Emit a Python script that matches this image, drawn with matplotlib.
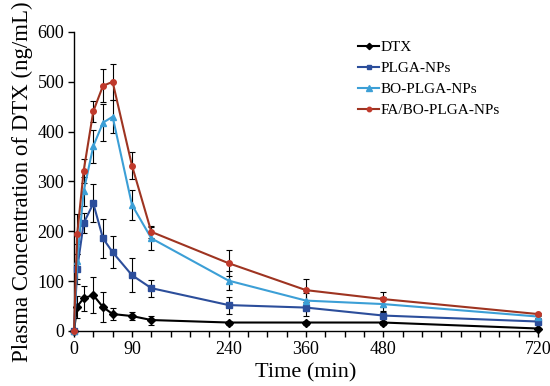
import matplotlib.pyplot as plt
import numpy as np

plt.rcParams['font.family'] = ['Liberation Serif', 'DejaVu Serif']

time_min = [0, 5, 15, 30, 45, 60, 90, 120, 240, 360, 480, 720]

dtx = [0, 49, 66, 72, 48, 34, 30, 22, 17, 17, 17, 5]
dtx_err = [0, 22, 25, 36, 30, 12, 8, 9, 4, 4, 4, 2]

plga = [0, 125, 216, 256, 186, 158, 112, 86, 52, 47, 31, 19]
plga_err = [0, 30, 20, 38, 39, 32, 34, 17, 17, 16, 10, 3]

bo = [0, 140, 280, 371, 418, 430, 253, 186, 101, 61, 54, 29]
bo_err = [0, 35, 30, 33, 37, 33, 30, 23, 19, 15, 15, 3]

fa_bo = [0, 194, 321, 441, 492, 500, 332, 199, 136, 82, 64, 34]
fa_bo_err = [0, 40, 24, 21, 33, 36, 27, 12, 26, 23, 15, 3]

labels = ["DTX", "PLGA-NPs", "BO-PLGA-NPs", "FA/BO-PLGA-NPs"]
series = [dtx, plga, bo, fa_bo]
errors = [dtx_err, plga_err, bo_err, fa_bo_err]
colors = ["#000000", "#2C4E9B", "#3C9FD6", "#9E3421"]
markers = ["D", "s", "^", "o"]
marker_faces = ["#000000", "#2C4E9B", "#3C9FD6", "#C0392B"]

fig = plt.figure(figsize=(5.5, 3.86), dpi=100)
ax = fig.add_axes([0.1345, 0.1425, 0.8436, 0.7746])

for y, e, c, m, mf, lab in zip(series, errors, colors, markers, marker_faces, labels):
    ax.errorbar(time_min, y, yerr=e, fmt='none', ecolor='black', elinewidth=0.8,
                capsize=2.2, capthick=0.8, zorder=2, clip_on=False)
    ax.plot(time_min, y, color=c, lw=1.5, marker=m, markersize=4 if m != "^" else 5,
            markerfacecolor=mf, markeredgecolor=mf, label=lab, zorder=3, clip_on=False)

ax.set_xlim(0, 720)
ax.set_ylim(0, 600)
ax.set_xticks(np.arange(0, 721, 30))
ax.set_xticklabels([str(t) if t in (0, 90, 240, 360, 480, 720) else "" for t in range(0, 721, 30)])
ax.set_yticks(np.arange(0, 601, 100))
ax.tick_params(axis='both', direction='out', length=4, width=1, labelsize=13, pad=3)
ax.spines['top'].set_visible(False)
ax.spines['right'].set_visible(False)
ax.spines['left'].set_linewidth(1)
ax.spines['bottom'].set_linewidth(1)

ax.set_xlabel("Time (min)", fontsize=16, labelpad=4)
ax.set_ylabel("Plasma Concentration of DTX (ng/mL)", fontsize=16.5, labelpad=3)

leg = ax.legend(loc='upper left', bbox_to_anchor=(0.612, 0.972), frameon=False, fontsize=11,
                handlelength=1.4, labelspacing=0.48, handletextpad=0.1,
                borderpad=0, borderaxespad=0, markerscale=0.8)

fig.savefig("out.png", dpi=100)
